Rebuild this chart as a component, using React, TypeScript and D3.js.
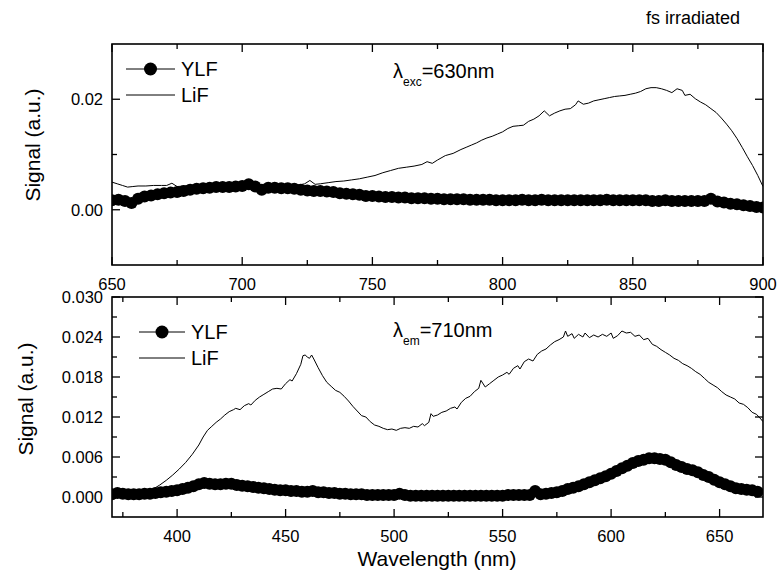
import React from "react";
import * as d3 from "d3";

const width = 778,
  height = 585;
const FONT = "'Liberation Sans', Arial, Helvetica, sans-serif";

// top panel: lambda_exc = 630 nm, LiF line [wavelength, signal]
const topLif: [number, number][] = [
  [650, 0.005], [652, 0.0047], [654, 0.0044], [656, 0.0041], [658, 0.0042], [660, 0.0043],
  [663, 0.0043], [666, 0.0044], [669, 0.0044], [671, 0.0044], [673, 0.0048], [675, 0.0042],
  [678, 0.0043], [681, 0.0044], [684, 0.0044], [687, 0.0044], [690, 0.0045], [693, 0.0045],
  [696, 0.0045], [699, 0.0045], [702, 0.0045], [705, 0.0045], [708, 0.0045], [711, 0.0045],
  [714, 0.0044], [717, 0.0044], [720, 0.0045], [722, 0.0045], [724, 0.0047], [726, 0.0053],
  [728, 0.0046], [730, 0.0047], [733, 0.0049], [736, 0.0051], [739, 0.0052], [742, 0.0054],
  [745, 0.0056], [748, 0.0059], [751, 0.0062], [754, 0.0067], [757, 0.0071], [760, 0.0075],
  [763, 0.0077], [766, 0.0079], [769, 0.0082], [771, 0.0087], [773, 0.0084], [775, 0.009],
  [778, 0.0098], [781, 0.0102], [784, 0.0109], [786, 0.0113], [788, 0.0117], [790, 0.0121],
  [792, 0.0126], [794, 0.013], [796, 0.0133], [798, 0.0137], [800, 0.0141], [802, 0.0147],
  [804, 0.0151], [806, 0.0152], [808, 0.0153], [810, 0.016], [812, 0.0164], [814, 0.017],
  [816, 0.0179], [818, 0.017], [820, 0.0175], [822, 0.0179], [824, 0.0182], [826, 0.0183],
  [828, 0.019], [829, 0.0197], [831, 0.0191], [833, 0.0193], [835, 0.0197], [837, 0.0199],
  [839, 0.0201], [841, 0.0203], [843, 0.0205], [845, 0.0206], [847, 0.0207], [849, 0.0209],
  [851, 0.0211], [853, 0.0214], [855, 0.0219], [857, 0.0221], [859, 0.0221], [861, 0.0219],
  [863, 0.0216], [865, 0.0212], [867, 0.0219], [869, 0.0216], [870, 0.0207], [872, 0.0209],
  [874, 0.0201], [876, 0.0195], [878, 0.019], [880, 0.0183], [882, 0.0176], [884, 0.0166],
  [886, 0.0155], [888, 0.0143], [890, 0.0129], [892, 0.0113], [894, 0.0096], [896, 0.008],
  [898, 0.0062], [900, 0.0042]
];

// top panel YLF, sampled every 2.5 nm from 650 nm
const topYlfStart = 650;
const topYlf = [
  0.0017, 0.0018, 0.0016, 0.0012, 0.002, 0.0024, 0.0026, 0.0028, 0.003, 0.0031,
  0.0032, 0.0034, 0.0036, 0.0038, 0.0039, 0.004, 0.0041, 0.0041, 0.0041, 0.0042,
  0.0043, 0.0046, 0.0042, 0.0036, 0.004, 0.004, 0.0039, 0.0039, 0.0038, 0.0036,
  0.0035, 0.0034, 0.0034, 0.0033, 0.0032, 0.003, 0.0029, 0.0028, 0.0027, 0.0025,
  0.0025, 0.0024, 0.0023, 0.0023, 0.0022, 0.0022, 0.0021, 0.0021, 0.0021, 0.002,
  0.002, 0.0019, 0.0019, 0.0019, 0.0019, 0.0018, 0.0018, 0.0018, 0.0018, 0.0017,
  0.0017, 0.0017, 0.0017, 0.0018, 0.0017, 0.0017, 0.0018, 0.0017, 0.0017, 0.0017,
  0.0017, 0.0017, 0.0017, 0.0017, 0.0017, 0.0017, 0.0018, 0.0017, 0.0017, 0.0017,
  0.0017, 0.0017, 0.0017, 0.0016, 0.0016, 0.0017, 0.0016, 0.0016, 0.0016, 0.0016,
  0.0016, 0.0016, 0.002, 0.0015, 0.0013, 0.0011, 0.001, 0.0008, 0.0007, 0.0005,
  0.0004
];

// bottom panel: lambda_em = 710 nm
const bottomLif: [number, number][] = [
  [370, 0.0005], [376, 0.0005], [382, 0.0006], [386, 0.0008], [389, 0.0012], [392, 0.0018],
  [395, 0.0025], [398, 0.0033], [401, 0.0042], [404, 0.0052], [407, 0.0064], [410, 0.0078],
  [412, 0.009], [414, 0.01], [416, 0.0106], [418, 0.0112], [420, 0.0117], [422, 0.0123],
  [424, 0.0128], [426, 0.0131], [427, 0.0133], [429, 0.0131], [431, 0.0137], [433, 0.014],
  [434, 0.0138], [436, 0.0145], [438, 0.015], [440, 0.0154], [442, 0.0158], [444, 0.0162],
  [446, 0.0163], [448, 0.0162], [450, 0.017], [452, 0.0176], [453, 0.0174], [455, 0.0185],
  [457, 0.0199], [458, 0.0212], [459, 0.0213], [460, 0.021], [461, 0.0208], [462, 0.0213],
  [463, 0.0207], [465, 0.0194], [467, 0.0182], [469, 0.0172], [471, 0.0166], [473, 0.016],
  [475, 0.0157], [477, 0.0151], [479, 0.0144], [481, 0.0136], [483, 0.0129], [485, 0.0122],
  [487, 0.012], [489, 0.0113], [491, 0.0108], [493, 0.0106], [495, 0.0103], [497, 0.0101],
  [499, 0.0102], [501, 0.01], [503, 0.0103], [505, 0.0104], [507, 0.0103], [509, 0.0106],
  [511, 0.0105], [513, 0.011], [514, 0.0107], [516, 0.0112], [517, 0.0125], [518, 0.0121],
  [520, 0.0123], [522, 0.0127], [524, 0.0129], [526, 0.0133], [528, 0.0135], [529, 0.0132],
  [531, 0.0142], [533, 0.0148], [535, 0.0151], [537, 0.0158], [539, 0.0163], [540, 0.0175],
  [542, 0.0165], [544, 0.017], [546, 0.0175], [548, 0.018], [550, 0.0183], [552, 0.0187],
  [553, 0.0184], [555, 0.0193], [557, 0.0197], [558, 0.0192], [560, 0.0203], [562, 0.0207],
  [564, 0.0204], [566, 0.0214], [568, 0.0219], [570, 0.0222], [572, 0.0228], [574, 0.0233],
  [576, 0.0236], [578, 0.024], [579, 0.0249], [580, 0.0241], [582, 0.0245], [583, 0.0238],
  [585, 0.0244], [587, 0.024], [588, 0.0246], [590, 0.0239], [592, 0.0243], [594, 0.024],
  [596, 0.0244], [598, 0.0241], [600, 0.0246], [601, 0.0238], [603, 0.0242], [605, 0.0249],
  [607, 0.0246], [609, 0.0247], [611, 0.0241], [613, 0.0243], [615, 0.0236], [617, 0.0238],
  [619, 0.0229], [621, 0.0226], [623, 0.0221], [625, 0.0217], [627, 0.0213], [629, 0.0208],
  [631, 0.0205], [633, 0.02], [635, 0.0197], [637, 0.0193], [639, 0.0188], [641, 0.0184],
  [643, 0.0178], [645, 0.0172], [647, 0.0168], [649, 0.0164], [651, 0.0158], [653, 0.0153],
  [655, 0.015], [657, 0.0147], [659, 0.0141], [661, 0.0139], [663, 0.0134], [665, 0.0127],
  [667, 0.0124], [669, 0.0117], [670, 0.0113]
];

// bottom panel YLF, every 2.5 nm from 370 nm
const bottomYlfStart = 370;
const bottomYlf = [
  0.0004, 0.0006, 0.0005, 0.0004, 0.0004, 0.0004, 0.0005, 0.0005, 0.0006, 0.0007,
  0.0008, 0.0009, 0.001, 0.0012, 0.0014, 0.0016, 0.0019, 0.0021, 0.002, 0.0019,
  0.0019, 0.002, 0.002, 0.0018, 0.0017, 0.0016, 0.0015, 0.0014, 0.0013, 0.0012,
  0.0011, 0.001, 0.001, 0.0009, 0.0009, 0.0008, 0.0008, 0.0009, 0.0007, 0.0007,
  0.0006, 0.0006, 0.0005, 0.0005, 0.0004, 0.0004, 0.0004, 0.0003, 0.0003, 0.0003,
  0.0003, 0.0003, 0.0003, 0.0005, 0.0003, 0.0002, 0.0002, 0.0002, 0.0002, 0.0002,
  0.0002, 0.0002, 0.0002, 0.0002, 0.0002, 0.0002, 0.0002, 0.0002, 0.0002, 0.0002,
  0.0002, 0.0002, 0.0002, 0.0003, 0.0003, 0.0003, 0.0003, 0.0003, 0.0009, 0.0004,
  0.0005, 0.0006, 0.0007, 0.0009, 0.0012, 0.0014, 0.0016, 0.0019, 0.0022, 0.0025,
  0.0028, 0.0031, 0.0035, 0.0039, 0.0043, 0.0047, 0.0051, 0.0054, 0.0056, 0.0058,
  0.0058, 0.0057, 0.0056, 0.0052, 0.0048, 0.0045, 0.0042, 0.004, 0.0037, 0.0033,
  0.003, 0.0026, 0.0022, 0.0019, 0.0016, 0.0013, 0.0012, 0.0011, 0.001, 0.0008
];
const ylfStep = 2.5;

const topXTicks = [650, 700, 750, 800, 850, 900];
const topXMinor = [675, 725, 775, 825, 875];
const topYTicks = [0, 0.02];
const topYMinor = [0.01];
const bottomXTicks = [400, 450, 500, 550, 600, 650];
const bottomXMinor = [375, 425, 475, 525, 575, 625];
const bottomYTicks = [0, 0.006, 0.012, 0.018, 0.024, 0.03];
const bottomYMinor = [0.003, 0.009, 0.015, 0.021, 0.027];

type PanelProps = {
  left: number;
  top: number;
  w: number;
  h: number;
  xDomain: [number, number];
  yDomain: [number, number];
  xTicks: number[];
  xMinor: number[];
  yTicks: number[];
  yMinor: number[];
  yFmt: string;
  lif: [number, number][];
  ylf: number[];
  ylfStart: number;
  legend: { x: number; y: number; len: number };
  note: { x: number; y: number; sub: string; rest: string };
};

function Panel(p: PanelProps) {
  const x = d3.scaleLinear().domain(p.xDomain).range([0, p.w]);
  const y = d3.scaleLinear().domain(p.yDomain).range([p.h, 0]);
  const fmt = d3.format(p.yFmt);
  const line = d3
    .line<[number, number]>()
    .x(d => x(d[0]))
    .y(d => y(d[1]));
  const ylfPts: [number, number][] = p.ylf.map((v, i) => [p.ylfStart + i * ylfStep, v]);
  const major = 8,
    minor = 5;

  return (
    <g transform={`translate(${p.left},${p.top})`}>
      <defs>
        <clipPath id={`clip${p.top}`}>
          <rect x={0} y={0} width={p.w} height={p.h} />
        </clipPath>
      </defs>
      <g clipPath={`url(#clip${p.top})`}>
        <path d={line(p.lif) || ""} fill="none" stroke="#000" strokeWidth={1} />
        <path d={line(ylfPts) || ""} fill="none" stroke="#000" strokeWidth={1} />
        {ylfPts.map((d, i) => (
          <circle key={i} cx={x(d[0])} cy={y(d[1])} r={6} fill="#000" />
        ))}
      </g>
      <rect x={0} y={0} width={p.w} height={p.h} fill="none" stroke="#000" strokeWidth={1.6} />
      {/* x ticks, bottom and top, pointing inward */}
      {p.xTicks.map(t => (
        <g key={`xt${t}`}>
          <line x1={x(t)} x2={x(t)} y1={p.h} y2={p.h - major} stroke="#000" strokeWidth={1.3} />
          <line x1={x(t)} x2={x(t)} y1={0} y2={major} stroke="#000" strokeWidth={1.3} />
          <text x={x(t)} y={p.h + 25} textAnchor="middle" fontSize={16.5} fontFamily={FONT}>
            {t}
          </text>
        </g>
      ))}
      {p.xMinor.map(t => (
        <g key={`xm${t}`}>
          <line x1={x(t)} x2={x(t)} y1={p.h} y2={p.h - minor} stroke="#000" strokeWidth={1.3} />
          <line x1={x(t)} x2={x(t)} y1={0} y2={minor} stroke="#000" strokeWidth={1.3} />
        </g>
      ))}
      {p.yTicks.map(t => (
        <g key={`yt${t}`}>
          <line x1={0} x2={major} y1={y(t)} y2={y(t)} stroke="#000" strokeWidth={1.3} />
          <line x1={p.w} x2={p.w - major} y1={y(t)} y2={y(t)} stroke="#000" strokeWidth={1.3} />
          <text
            x={-9}
            y={y(t)}
            textAnchor="end"
            dominantBaseline="central"
            fontSize={16.5}
            fontFamily={FONT}
          >
            {fmt(t)}
          </text>
        </g>
      ))}
      {p.yMinor.map(t => (
        <g key={`ym${t}`}>
          <line x1={0} x2={minor} y1={y(t)} y2={y(t)} stroke="#000" strokeWidth={1.3} />
          <line x1={p.w} x2={p.w - minor} y1={y(t)} y2={y(t)} stroke="#000" strokeWidth={1.3} />
        </g>
      ))}
      {/* legend */}
      <g fontFamily={FONT} fontSize={20}>
        <line
          x1={p.legend.x}
          x2={p.legend.x + p.legend.len}
          y1={p.legend.y}
          y2={p.legend.y}
          stroke="#000"
          strokeWidth={1}
        />
        <circle cx={p.legend.x + p.legend.len / 2} cy={p.legend.y} r={6.5} fill="#000" />
        <text x={p.legend.x + p.legend.len + 6} y={p.legend.y + 7}>
          YLF
        </text>
        <line
          x1={p.legend.x}
          x2={p.legend.x + p.legend.len}
          y1={p.legend.y + 26}
          y2={p.legend.y + 26}
          stroke="#000"
          strokeWidth={1}
        />
        <text x={p.legend.x + p.legend.len + 6} y={p.legend.y + 33}>
          LiF
        </text>
      </g>
      <text x={p.note.x} y={p.note.y} fontFamily={FONT} fontSize={20}>
        λ
        <tspan fontSize={12} dy={8}>
          {p.note.sub}
        </tspan>
        <tspan dy={-8}>{p.note.rest}</tspan>
      </text>
    </g>
  );
}

export default function App() {
  return (
    <svg
      width={width}
      height={height}
      style={{ position: "absolute", left: 0, top: 0, background: "#fff" }}
    >
      <Panel
        left={112}
        top={44}
        w={651}
        h={221}
        xDomain={[650, 900]}
        yDomain={[-0.01, 0.03]}
        xTicks={topXTicks}
        xMinor={topXMinor}
        yTicks={topYTicks}
        yMinor={topYMinor}
        yFmt=".2f"
        lif={topLif}
        ylf={topYlf}
        ylfStart={topYlfStart}
        legend={{ x: 14, y: 25, len: 49 }}
        note={{ x: 281, y: 34, sub: "exc", rest: "=630nm" }}
      />
      <Panel
        left={112}
        top={297}
        w={651}
        h={220}
        xDomain={[370, 670]}
        yDomain={[-0.003, 0.03]}
        xTicks={bottomXTicks}
        xMinor={bottomXMinor}
        yTicks={bottomYTicks}
        yMinor={bottomYMinor}
        yFmt=".3f"
        lif={bottomLif}
        ylf={bottomYlf}
        ylfStart={bottomYlfStart}
        legend={{ x: 27, y: 35, len: 46 }}
        note={{ x: 281, y: 40, sub: "em", rest: "=710nm" }}
      />
      <g fontFamily={FONT} fontSize={21}>
        <text transform="translate(32,145) rotate(-90)" textAnchor="middle" dominantBaseline="central">
          Signal (a.u.)
        </text>
        <text transform="translate(25,399) rotate(-90)" textAnchor="middle" dominantBaseline="central">
          Signal (a.u.)
        </text>
        <text x={437} y={566} textAnchor="middle">
          Wavelength (nm)
        </text>
      </g>
      <text x={740} y={24} textAnchor="end" fontFamily={FONT} fontSize={18}>
        fs irradiated
      </text>
    </svg>
  );
}
